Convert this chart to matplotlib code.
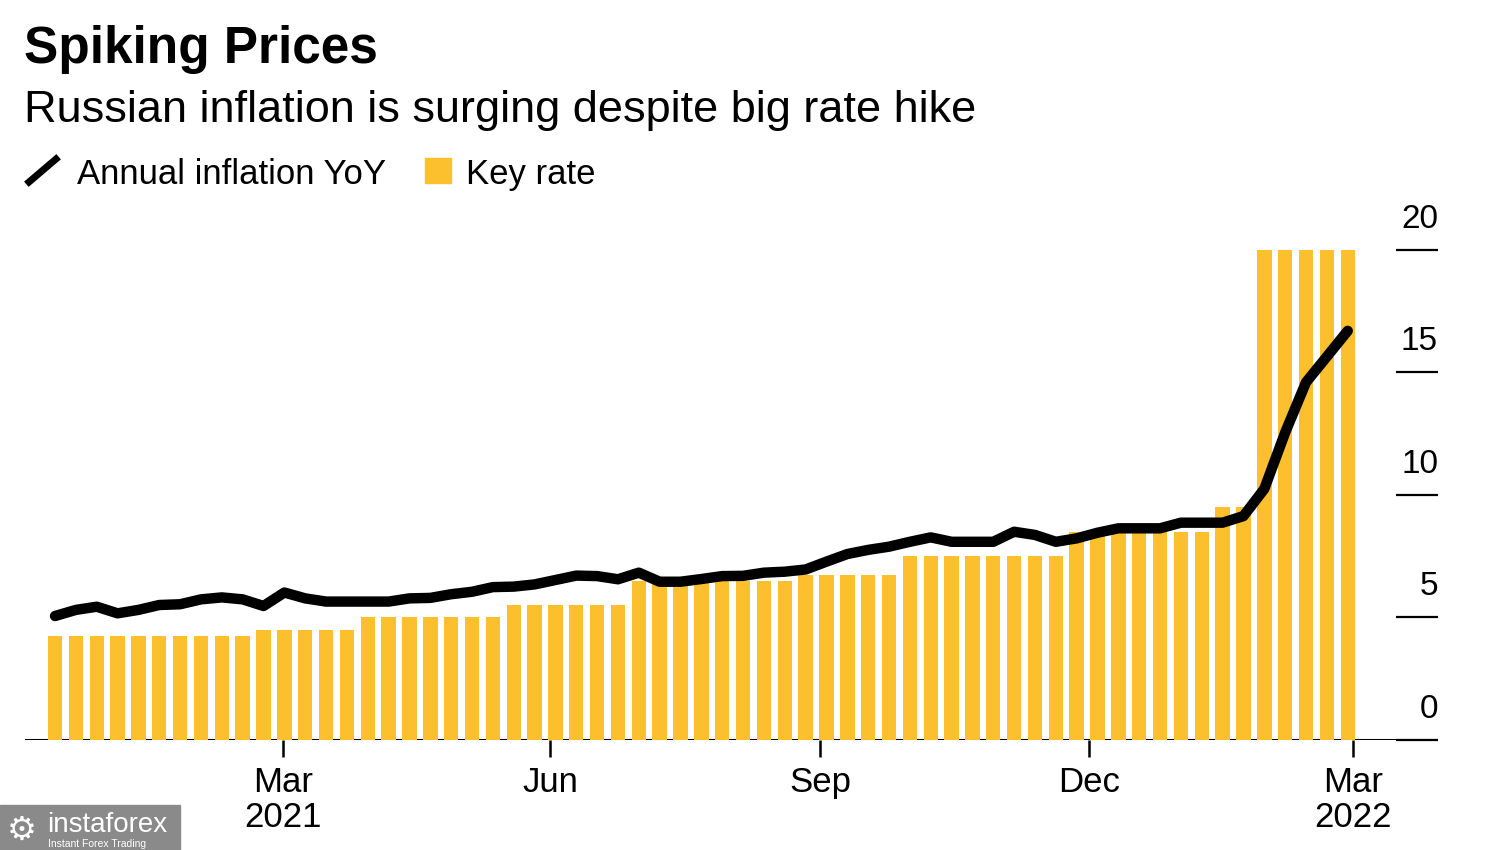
import matplotlib.pyplot as plt
import matplotlib.transforms as mtransforms
from matplotlib.lines import Line2D
from matplotlib.patches import Rectangle
import numpy as np

plt.rcParams['font.family'] = ['Liberation Sans', 'DejaVu Sans']

# weekly key rate (%) and annual inflation YoY (%)
key_rate = [4.25] * 10 + [4.5] * 5 + [5.0] * 7 + [5.5] * 6 + [6.5] * 8 + [6.75] * 5 \
    + [7.5] * 8 + [8.5] * 7 + [9.5] * 2 + [20.0] * 5
inflation = [5.06, 5.31, 5.44, 5.17, 5.31, 5.51, 5.54, 5.74, 5.82, 5.74,
             5.47, 6.02, 5.78, 5.65, 5.65, 5.65, 5.65, 5.78, 5.80, 5.95,
             6.05, 6.24, 6.26, 6.35, 6.53, 6.71, 6.69, 6.56, 6.83, 6.46,
             6.46, 6.57, 6.69, 6.70, 6.83, 6.87, 6.96, 7.28, 7.59, 7.76,
             7.89, 8.09, 8.27, 8.09, 8.09, 8.09, 8.50, 8.37, 8.09, 8.23,
             8.46, 8.64, 8.64, 8.64, 8.87, 8.87, 8.87, 9.14, 10.25, 12.55,
             14.6, 15.65, 16.7]

tick_pos = [10.95, 23.75, 36.7, 49.6, 62.25]
tick_labels = ['Mar\n2021', 'Jun', 'Sep', 'Dec', 'Mar\n2022']
yticks = [0, 5, 10, 15, 20]

BAR = '#FCBF2E'
W, H = 1500, 850


def fx(px):
    return px / W


def fy(py):
    return 1 - py / H


fig = plt.figure(figsize=(15, 8.5), dpi=100)
ax = fig.add_axes([fx(25), fy(740), fx(1438 - 25), (740 - 200) / H])

x = np.arange(len(key_rate))
ax.axhline(0, color='black', lw=2.2, zorder=1)
ax.bar(x, key_rate, width=0.69, color=BAR, zorder=2)
ax.plot(x, inflation, color='black', lw=7.5, solid_joinstyle='round',
        solid_capstyle='round', zorder=3)

ax.set_xlim(-1.44, 66.33)
ax.set_ylim(0, 22.04)
for s in ax.spines.values():
    s.set_visible(False)

ax.set_xticks(tick_pos, labels=tick_labels)
ax.tick_params(axis='x', direction='out', length=12, width=1.8, pad=7,
               labelsize=25)
for lbl in ax.get_xticklabels():
    lbl.set_linespacing(1.05)

ax.yaxis.tick_right()
ax.set_yticks(yticks)
ax.tick_params(axis='y', direction='in', length=30, width=1.6, labelright=False)
trans = mtransforms.offset_copy(ax.get_yaxis_transform(), fig=fig, y=15 / 100 * 72, units='points')
for v in yticks:
    ax.text(1.0, v, str(v), transform=trans, ha='right', va='bottom', fontsize=24)

# titles
fig.text(fx(24), fy(63), 'Spiking Prices', fontsize=37, fontweight='bold', va='baseline')
fig.text(fx(24), fy(122), 'Russian inflation is surging despite big rate hike',
         fontsize=32.5, va='baseline')

# legend
fig.add_artist(Line2D([fx(29), fx(56)], [fy(182), fy(159)], color='black', lw=5,
                      transform=fig.transFigure))
fig.text(fx(77), fy(184), 'Annual inflation YoY', fontsize=25, va='baseline')
fig.add_artist(Rectangle((fx(425), fy(183)), 26 / W, 25 / H, color=BAR,
                         transform=fig.transFigure))
fig.text(fx(466), fy(184), 'Key rate', fontsize=25, va='baseline')

# watermark
fig.add_artist(Rectangle((0, 0), 180 / W, 45 / H, color='#8a8a8a',
                         transform=fig.transFigure))
fig.text(fx(7), fy(840), '\u2699', color='white', fontsize=24, va='baseline',
         family='DejaVu Sans')
fig.text(fx(47), fy(832), 'instaforex', color='white', fontsize=20, va='baseline')
fig.text(fx(48), fy(847), 'Instant Forex Trading', color='white', fontsize=7.5,
         va='baseline')

fig.savefig('out.png', dpi=100, facecolor='white')
